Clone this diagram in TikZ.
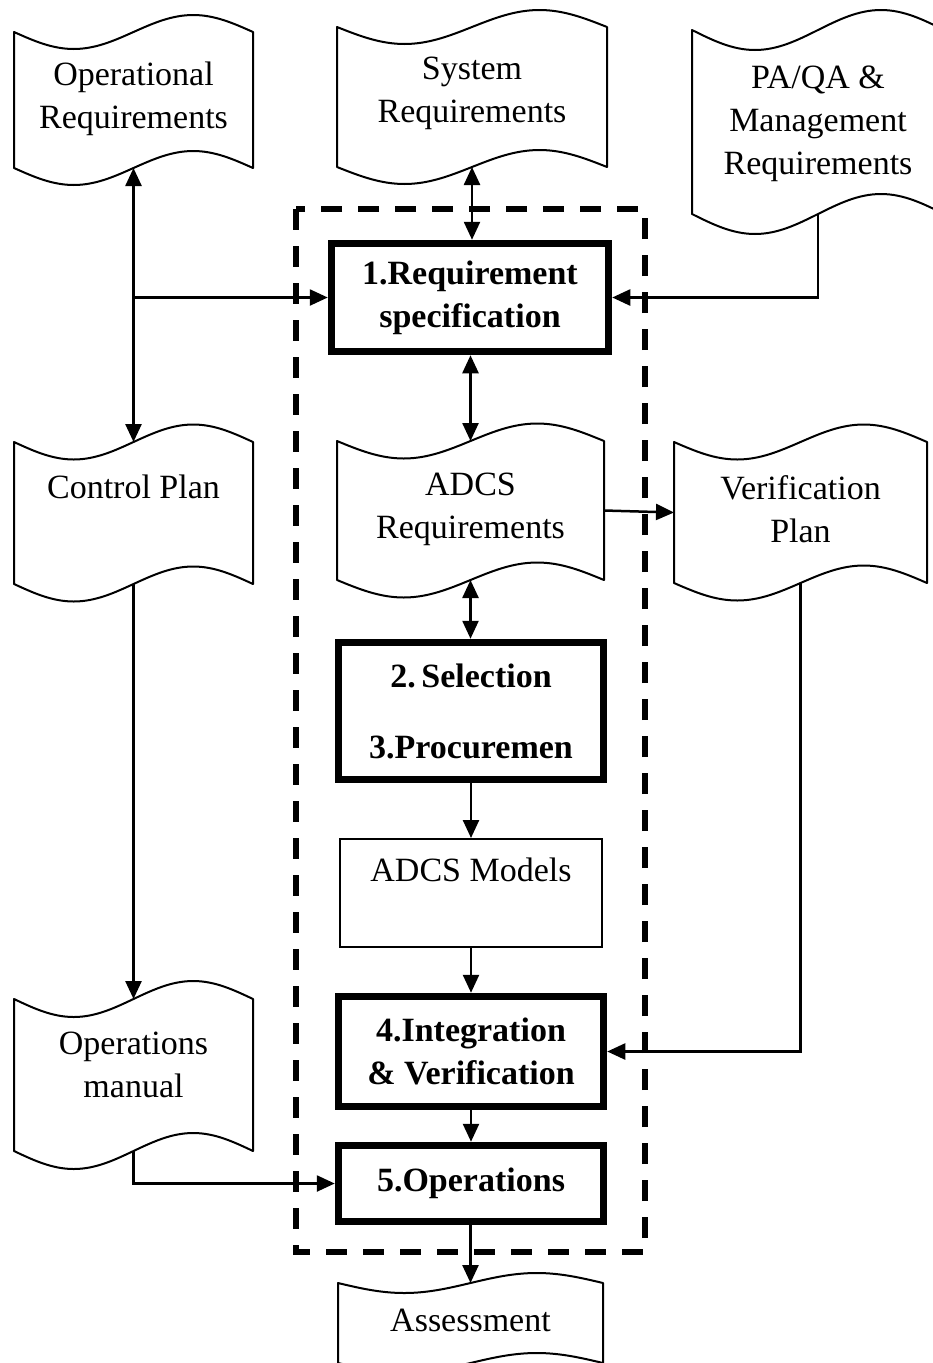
\documentclass[tikz,border=0pt]{standalone}
\usepackage{fontspec}
\setmainfont{Liberation Serif}
\usetikzlibrary{arrows.meta,calc}

\tikzset{
  tapeline/.style={draw, line width=2pt, fill=white, line join=round},
  tapebox/.style={rectangle, draw=none, inner sep=0pt, outer sep=0pt},
  tapetext/.style={align=center, inner sep=0pt, font=\fontsize{34}{43}\selectfont},
  stagebox/.style={rectangle, draw, fill=white, line width=7.5pt, inner sep=0pt,
    align=center, font=\bfseries\fontsize{34}{43}\selectfont},
  modelbox/.style={rectangle, draw, fill=white, line width=2pt, inner sep=0pt},
  frame/.style={draw, line width=6pt, dash pattern=on 21pt off 16pt},
  tip/.tip={Triangle[length=18pt,width=16pt]},
  arr/.style={line width=2.5pt, -tip},
  dbl/.style={line width=2.5pt, tip-tip},
}

% punched-tape document: name, x1, top mid, x2, bottom mid, wave amplitude, text y, text
\newcommand{\tapedoc}[8]{%
  \pgfmathsetmacro{\tdW}{#4-#2}%
  \pgfmathsetmacro{\tdH}{#5-#3}%
  \draw[tapeline] (#2,#3)
    sin ({#2+0.25*\tdW},{#3+#6}) cos ({#2+0.5*\tdW},#3)
    sin ({#2+0.75*\tdW},{#3-#6}) cos (#4,#3)
    -- (#4,#5)
    sin ({#2+0.75*\tdW},{#5-#6}) cos ({#2+0.5*\tdW},#5)
    sin ({#2+0.25*\tdW},{#5+#6}) cos (#2,#5) -- cycle;
  \node[tapebox, minimum width=\tdW pt, minimum height=\tdH pt] (#1) at ({0.5*(#2+#4)},{0.5*(#3+#5)}) {};
  \node[tapetext] (#1-txt) at ({0.5*(#2+#4)},#7) {#8};
}

\begin{document}
\begin{tikzpicture}[x=1pt, y=-1pt]
\useasboundingbox (0,0) rectangle (933,1363);

% documents
\tapedoc{OpReq}{14}{32}{253}{168}{17}{98.5}{Operational\\Requirements}
\tapedoc{SysReq}{337}{27}{607}{167}{17}{93.5}{System\\Requirements}
\tapedoc{PAQA}{692}{30}{944}{214}{20}{123.5}{PA/QA \&\\Management\\Requirements}
\tapedoc{CtrlPlan}{14}{442}{253}{584}{17.5}{487}{Control Plan}
\tapedoc{ADCSReq}{337}{441}{604}{580}{17.5}{509}{ADCS\\Requirements}
\tapedoc{Verif}{674}{442}{927}{583}{17.5}{509}{Verification\\Plan}
\tapedoc{OpsMan}{14}{999}{253}{1151}{18}{1064.5}{Operations\\manual}
\tapedoc{Assess}{338}{1283}{603}{1363}{10}{1320}{Assessment}

% process boundary
\draw[frame] (296,209) rectangle (645,1252);

% process stages
\node[stagebox, minimum width=277pt, minimum height=108pt] (Req1) at (470,297.5) {1.Requirement\\specification};
\node[stagebox, minimum width=265pt, minimum height=137pt] (Sel) at (471,711) {2.\,Selection\\[28pt]3.Procuremen};
\node[modelbox, minimum width=262pt, minimum height=108pt] (Models) at (471,893) {};
\node[tapetext] (Models-txt) at (471,870) {ADCS Models};
\node[stagebox, minimum width=265pt, minimum height=110pt] (Int) at (471,1051.5) {4.Integration\\\&~Verification};
\node[stagebox, minimum width=265pt, minimum height=76pt] (Ops) at (471,1183.5) {5.Operations};

% connectors
\draw[dbl] (OpReq.south) -- (CtrlPlan.north);
\draw[arr] (OpReq.south |- Req1.west) -- (Req1.west);
\draw[dbl] (SysReq.south) -- (SysReq.south |- Req1.north);
\draw[arr] (PAQA.south) |- (Req1.east);
\draw[dbl] (Req1.south -| ADCSReq.north) -- (ADCSReq.north);
\draw[arr] (ADCSReq.east) -- (Verif.west);
\draw[dbl] (ADCSReq.south) -- (ADCSReq.south |- Sel.north);
\draw[arr] (Sel.south) -- (Models.north);
\draw[arr] (Models.south) -- (Int.north);
\draw[arr] (Verif.south) |- (Int.east);
\draw[arr] (CtrlPlan.south) -- (OpsMan.north);
\draw[arr] (OpsMan.south) |- (Ops.west);
\draw[arr] (Int.south) -- (Ops.north);
\draw[arr] (Ops.south -| Assess.north) -- (Assess.north);
\end{tikzpicture}
\end{document}
